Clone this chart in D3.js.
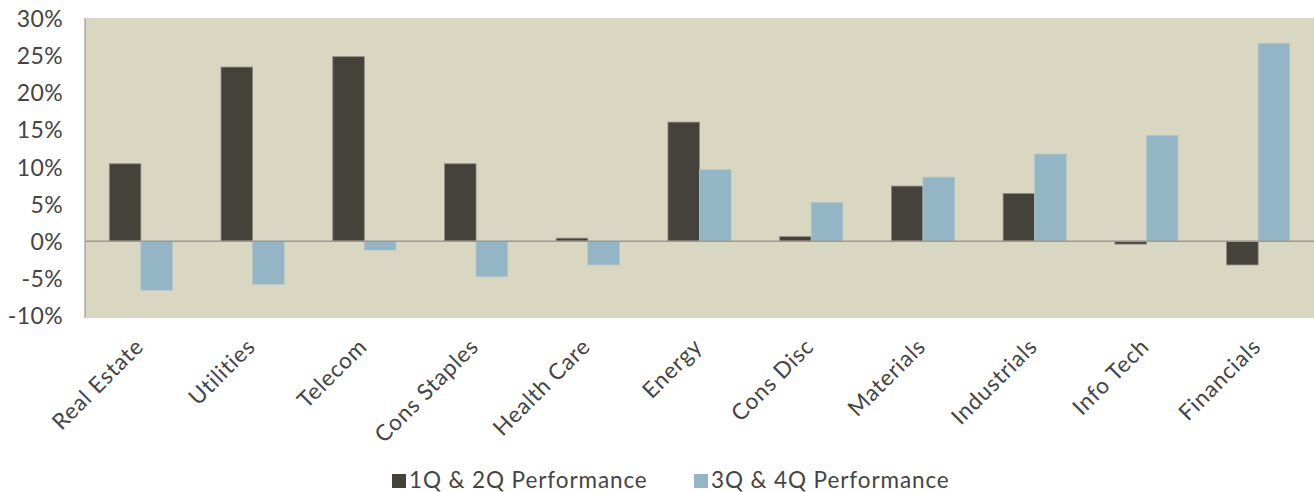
<!DOCTYPE html>
<html><head><meta charset="utf-8">
<script src="https://cdn.jsdelivr.net/npm/d3@7"></script>
<style>body{margin:0;background:#fff;} text{font-family:Lato,"Open Sans",sans-serif;fill:#444;}</style>
</head><body><svg id="c" width="1314" height="492"></svg>
<script>
const categories = ["Real Estate","Utilities","Telecom","Cons Staples","Health Care","Energy","Cons Disc","Materials","Industrials","Info Tech","Financials"];
const h1 = [10.4, 23.4, 24.8, 10.4, 0.4, 16.0, 0.6, 7.4, 6.4, -0.4, -3.2];
const h2 = [-6.6, -5.8, -1.2, -4.8, -3.2, 9.6, 5.2, 8.6, 11.7, 14.2, 26.6];
const seriesNames = ["1Q & 2Q Performance", "3Q & 4Q Performance"];
const yTicks = [-10, -5, 0, 5, 10, 15, 20, 25, 30];
const colors = ["#45413b", "#93b5c6"];

const svg = d3.select("#c");
const L = 85, R = 1314, T = 18, B = 315.5;
const x = d3.scaleBand().domain(categories).range([L, R]).paddingInner(0.435).paddingOuter(0.2175);
const x1 = d3.scaleBand().domain([0,1]).range([0, x.bandwidth()]);
const y = d3.scaleLinear().domain([-10, 30]).range([B, T]);

svg.append("rect").attr("x", L).attr("y", T).attr("width", R - L).attr("height", 318 - T).attr("fill", "#d9d6c2");

const g = svg.append("g");
[h1, h2].forEach((vals, s) => {
  g.selectAll(null).data(vals).enter().append("rect")
    .attr("x", (d, i) => x(categories[i]) + x1(s))
    .attr("width", x1.bandwidth())
    .attr("y", d => y(Math.max(0, d)))
    .attr("height", d => Math.abs(y(d) - y(0)))
    .attr("fill", colors[s])
    .attr("stroke", s === 0 ? "#8f8b80" : "#b0c4c8").attr("stroke-width", 0.8);
});

// zero line
svg.append("line").attr("x1", L).attr("x2", R).attr("y1", y(0)).attr("y2", y(0)).attr("stroke", "#9d9a90").attr("stroke-width", 1.5);
// left axis line
svg.append("line").attr("x1", L).attr("x2", L).attr("y1", T).attr("y2", 318).attr("stroke", "#9d9a90").attr("stroke-width", 1.2);

// y axis
const yAxis = d3.axisLeft(y).tickValues(yTicks).tickFormat(d => d + "%").tickSize(0).tickPadding(22);
const ya = svg.append("g").attr("transform", `translate(${L},0)`).call(yAxis);
ya.select(".domain").remove();
ya.selectAll("text").style("font-size", "23px").style("letter-spacing", "0.4px").attr("fill", "#444").attr("dy", "0.36em");

// x labels
const xAxis = d3.axisBottom(x).tickSize(0).tickPadding(0);
const xa = svg.append("g").attr("transform", `translate(0,318)`).call(xAxis);
xa.select(".domain").remove();
xa.selectAll("text").style("font-size", "22.5px").style("letter-spacing", "0.8px").attr("fill", "#444")
  .attr("text-anchor", "end").attr("dy", null).attr("y", 0)
  .attr("transform", "translate(4,30) rotate(-45)");

// legend
const leg = svg.append("g");
const legX = [392, 694];
seriesNames.forEach((n, i) => {
  leg.append("rect").attr("x", legX[i]).attr("y", 474).attr("width", 14).attr("height", 14).attr("fill", colors[i]);
  leg.append("text").attr("x", legX[i] + 17).attr("y", 488).text(n).style("font-size", "22.5px").style("letter-spacing", "0.9px").attr("fill", "#444");
});
</script></body></html>
